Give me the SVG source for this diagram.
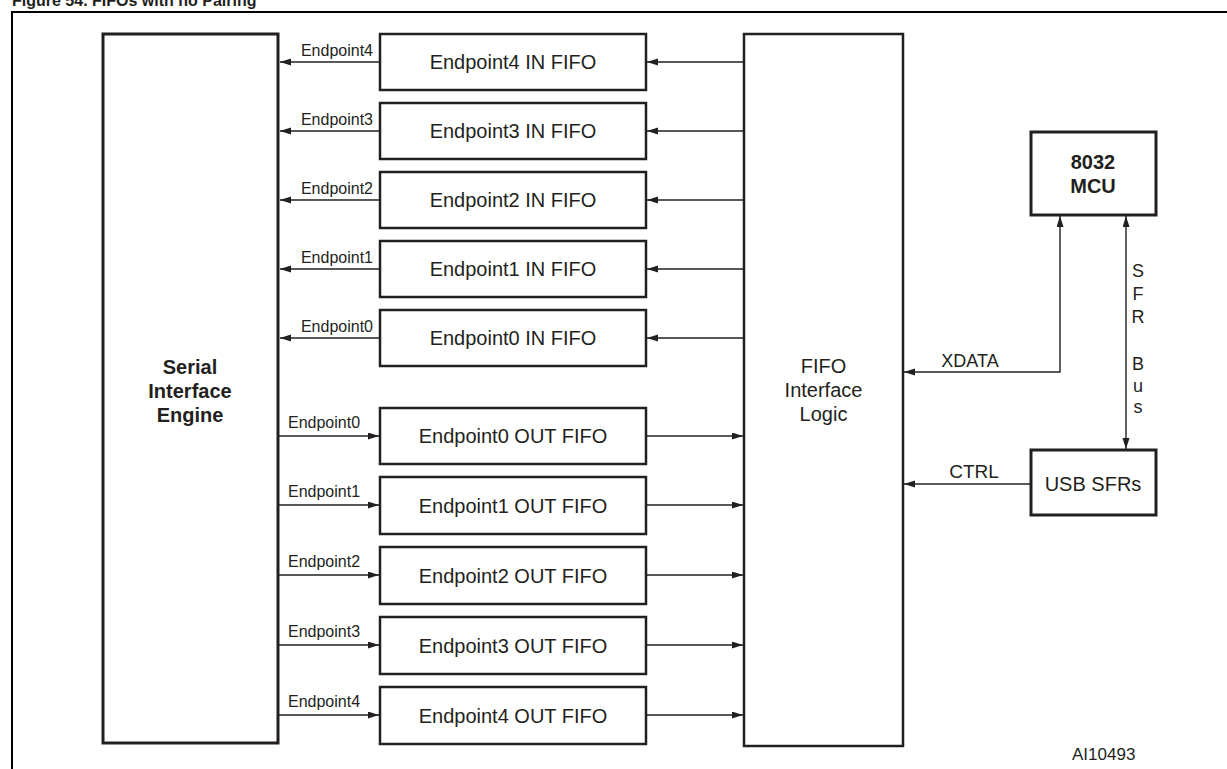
<svg xmlns="http://www.w3.org/2000/svg" width="1227" height="769" viewBox="0 0 1227 769">
<style>
.box{fill:#fff;stroke:#231f20;stroke-width:3}
.thin{fill:#fff;stroke:#231f20;stroke-width:2.5}
.ln{fill:none;stroke:#231f20;stroke-width:1.4}
text{font-family:"Liberation Sans",Arial,sans-serif;fill:#231f20}
.fifo{font-size:20px;text-anchor:middle}
.lbl{font-size:16px}
.b{font-weight:bold}
</style>
<defs>
<marker id="ah" markerUnits="userSpaceOnUse" markerWidth="11" markerHeight="8" refX="11" refY="3.5" orient="auto-start-reverse">
<path d="M0,0 L11,3.5 L0,7 z" fill="#231f20"/>
</marker>
</defs>
<rect width="1227" height="769" fill="#fff"/>
<text x="12" y="6" class="b" font-size="16">Figure 54. FIFOs with no Pairing</text>
<path d="M12,769 V12 H1227" fill="none" stroke="#000" stroke-width="2"/>

<g id="sie">
<rect class="box" x="103" y="34" width="175" height="709"/>
<text class="fifo b" x="190" y="374">Serial</text>
<text class="fifo b" x="190" y="398">Interface</text>
<text class="fifo b" x="190" y="422">Engine</text>
</g>

<g id="fil">
<rect class="thin" x="744" y="34" width="159" height="712"/>
<text class="fifo" x="823.5" y="373">FIFO</text>
<text class="fifo" x="823.5" y="397">Interface</text>
<text class="fifo" x="823.5" y="421">Logic</text>
</g>

<g id="in4"><rect class="thin" x="380" y="34" width="266" height="56"/><text class="fifo" x="513" y="69">Endpoint4 IN FIFO</text></g>
<g id="in3"><rect class="thin" x="380" y="103" width="266" height="56"/><text class="fifo" x="513" y="138">Endpoint3 IN FIFO</text></g>
<g id="in2"><rect class="thin" x="380" y="172" width="266" height="56"/><text class="fifo" x="513" y="207">Endpoint2 IN FIFO</text></g>
<g id="in1"><rect class="thin" x="380" y="241" width="266" height="56"/><text class="fifo" x="513" y="276">Endpoint1 IN FIFO</text></g>
<g id="in0"><rect class="thin" x="380" y="310" width="266" height="56"/><text class="fifo" x="513" y="345">Endpoint0 IN FIFO</text></g>

<g id="out0"><rect class="thin" x="380" y="408" width="266" height="56"/><text class="fifo" x="513" y="443">Endpoint0 OUT FIFO</text></g>
<g id="out1"><rect class="thin" x="380" y="477" width="266" height="57"/><text class="fifo" x="513" y="513">Endpoint1 OUT FIFO</text></g>
<g id="out2"><rect class="thin" x="380" y="547" width="266" height="57"/><text class="fifo" x="513" y="583">Endpoint2 OUT FIFO</text></g>
<g id="out3"><rect class="thin" x="380" y="617" width="266" height="57"/><text class="fifo" x="513" y="653">Endpoint3 OUT FIFO</text></g>
<g id="out4"><rect class="thin" x="380" y="687" width="266" height="57"/><text class="fifo" x="513" y="723">Endpoint4 OUT FIFO</text></g>

<g id="mcu">
<rect class="box" x="1031" y="132" width="125" height="83"/>
<text class="fifo b" x="1093" y="169">8032</text>
<text class="fifo b" x="1093" y="193">MCU</text>
</g>

<g id="usbsfr">
<rect class="box" x="1031" y="450" width="125" height="65"/>
<text class="fifo" x="1093" y="491">USB SFRs</text>
</g>

<g id="connectors">
<path class="ln" d="M744,62 H647" marker-end="url(#ah)"/>
<path class="ln" d="M744,131 H647" marker-end="url(#ah)"/>
<path class="ln" d="M744,200 H647" marker-end="url(#ah)"/>
<path class="ln" d="M744,269 H647" marker-end="url(#ah)"/>
<path class="ln" d="M744,338 H647" marker-end="url(#ah)"/>

<path class="ln" d="M380,62 H280" marker-end="url(#ah)"/>
<path class="ln" d="M380,131 H280" marker-end="url(#ah)"/>
<path class="ln" d="M380,200 H280" marker-end="url(#ah)"/>
<path class="ln" d="M380,269 H280" marker-end="url(#ah)"/>
<path class="ln" d="M380,338 H280" marker-end="url(#ah)"/>

<path class="ln" d="M279,436 H379" marker-end="url(#ah)"/>
<path class="ln" d="M279,505 H379" marker-end="url(#ah)"/>
<path class="ln" d="M279,575 H379" marker-end="url(#ah)"/>
<path class="ln" d="M279,645 H379" marker-end="url(#ah)"/>
<path class="ln" d="M279,715 H379" marker-end="url(#ah)"/>

<path class="ln" d="M646,436 H743" marker-end="url(#ah)"/>
<path class="ln" d="M646,505 H743" marker-end="url(#ah)"/>
<path class="ln" d="M646,575 H743" marker-end="url(#ah)"/>
<path class="ln" d="M646,645 H743" marker-end="url(#ah)"/>
<path class="ln" d="M646,715 H743" marker-end="url(#ah)"/>

<path class="ln" d="M1060,216 V372 H904" marker-start="url(#ah)" marker-end="url(#ah)"/>
<path class="ln" d="M1126,216 V449" marker-start="url(#ah)" marker-end="url(#ah)"/>
<path class="ln" d="M1031,484 H904" marker-end="url(#ah)"/>

<text class="lbl" x="373" y="56" text-anchor="end">Endpoint4</text>
<text class="lbl" x="373" y="125" text-anchor="end">Endpoint3</text>
<text class="lbl" x="373" y="194" text-anchor="end">Endpoint2</text>
<text class="lbl" x="373" y="263" text-anchor="end">Endpoint1</text>
<text class="lbl" x="373" y="332" text-anchor="end">Endpoint0</text>

<text class="lbl" x="288" y="428">Endpoint0</text>
<text class="lbl" x="288" y="497">Endpoint1</text>
<text class="lbl" x="288" y="567">Endpoint2</text>
<text class="lbl" x="288" y="637">Endpoint3</text>
<text class="lbl" x="288" y="707">Endpoint4</text>

<text x="970" y="367" font-size="18" text-anchor="middle">XDATA</text>
<text x="974" y="478" font-size="19" text-anchor="middle">CTRL</text>
<g font-size="18" text-anchor="middle">
<text x="1138" y="277">S</text>
<text x="1138" y="300">F</text>
<text x="1138" y="323">R</text>
<text x="1138" y="370">B</text>
<text x="1138" y="392">u</text>
<text x="1138" y="413">s</text>
</g>
</g>
<text x="1072" y="760" font-size="17">AI10493</text>
</svg>
